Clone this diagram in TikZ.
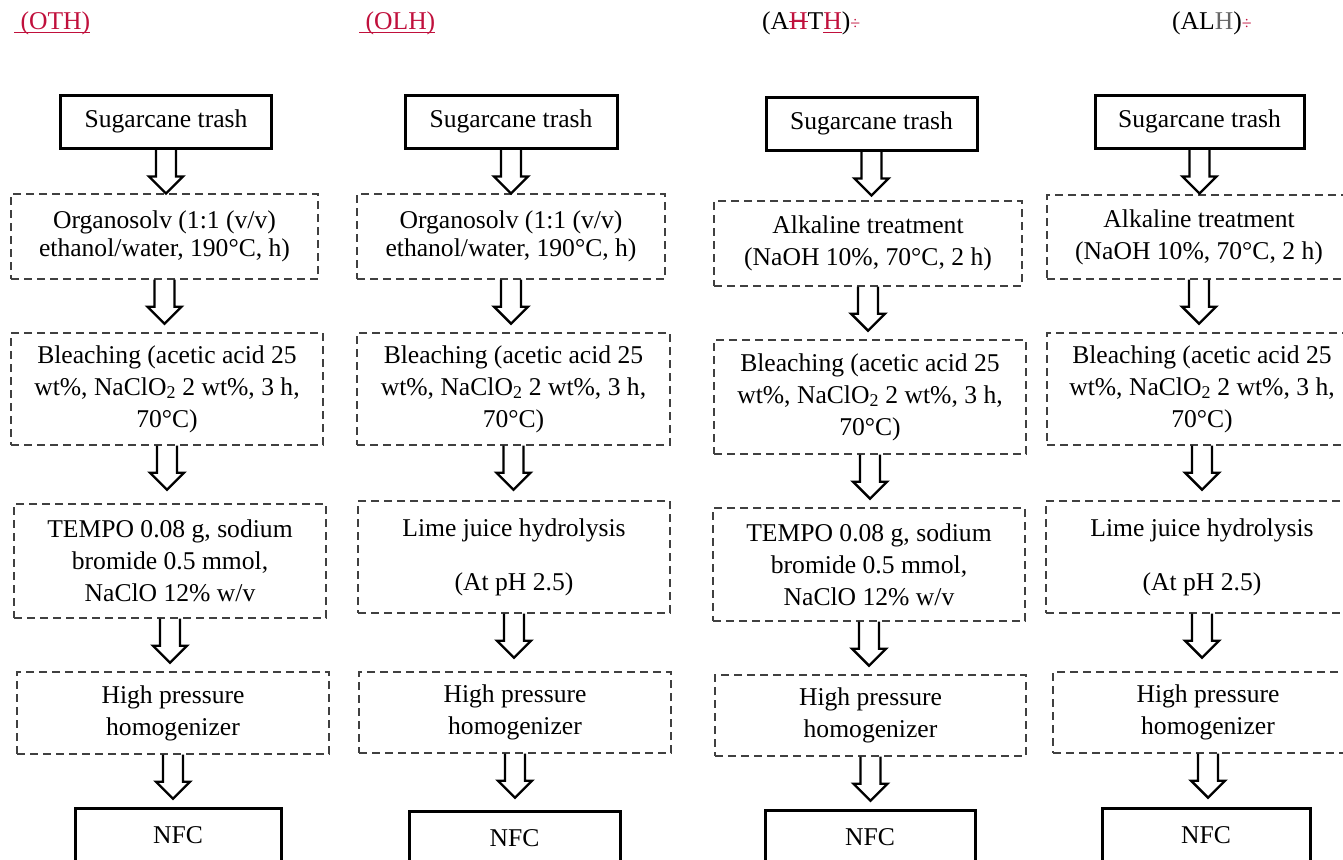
\documentclass[tikz,border=0pt]{standalone}
\usepackage{fontspec}
\setmainfont{Liberation Serif}
\usetikzlibrary{positioning}
\definecolor{revred}{RGB}{192,16,60}
% tracked-change marks
\newcommand{\insmark}[1]{\leavevmode\setbox0\hbox{#1}\rlap{\rule[-0.13em]{\wd0}{1.6pt}}\box0}
\newcommand{\delmark}[1]{\leavevmode\setbox0\hbox{#1}\rlap{\rule[0.3em]{\wd0}{1.6pt}}\box0}
\tikzset{
  startbox/.style={
    draw,
    line width = 3pt,
    minimum width = 211pt,
    minimum height = 53pt,
    font = \fontsize{25.6}{32}\selectfont
  },
  stepbox/.style={
    draw = black!75,
    line width = 1.4pt,
    dash pattern = on 8pt off 5pt,
    align = center,
    minimum width = 312pt,
    font = \fontsize{25.6}{32}\selectfont
  },
  blockarrow/.style={
    line width = 2.4pt,
    line join = miter
  },
  header/.style={
    anchor = base west,
    inner sep = 0pt,
    font = \fontsize{25.6}{32}\selectfont
  }
}
% hollow arrow hanging below a box
\newcommand{\flowarrow}[1]{%
  \draw[blockarrow] ([xshift=-10pt]#1.south) --++ (0,27) --++ (-7,0) --++ (17,17)
    --++ (17,-17) --++ (-7,0) --++ (0,-27);}

\begin{document}
\begin{tikzpicture}[x=1pt,y=-1pt]
  \useasboundingbox (0,0) rectangle (1343,859);
  \clip (0,0) rectangle (1343,859);
  % headers
  \node[header] (hd1) at (14,30) {\color{revred}\insmark{~(OTH)}};
  \node[header] (hd2) at (359,30) {\color{revred}\insmark{~(OLH)}};
  \node[header] (hd3) at (762,30) {(A\textcolor{revred}{\delmark{H}}T\textcolor{revred}{\insmark{H}})\textcolor{revred}{\fontsize{18}{18}\selectfont ÷}};
  \node[header] (hd4) at (1172,30) {(AL\textcolor{black!60}{H})\textcolor{revred}{\fontsize{18}{18}\selectfont ÷}};
  % OTH
  \node[startbox] (s1) at (166,121.5) {Sugarcane trash};
  \node[stepbox, minimum width=307pt, minimum height=85pt, font=\fontsize{25.6}{28}\selectfont] (o1) at (164.5,236.5) {Organosolv (1:1 (v/v)\\ethanol/water, 190°C, h)};
  \node[stepbox, minimum height=112pt] (b1) at (167,389) {Bleaching (acetic acid 25\\wt\%, NaClO\textsubscript{2} 2 wt\%, 3 h,\\70°C)};
  \node[stepbox, minimum height=114pt] (t1) at (170,561) {TEMPO 0.08 g, sodium\\bromide 0.5 mmol,\\NaClO 12\% w/v};
  \node[stepbox, minimum height=82pt] (h1) at (173,713) {High pressure\\homogenizer};
  \node[startbox, minimum width=206pt, minimum height=54pt] (n1) at (178,835) {NFC};
  % OLH
  \node[startbox, minimum width=212pt] (s2) at (511,121.5) {Sugarcane trash};
  \node[stepbox, minimum width=308pt, minimum height=85pt, font=\fontsize{25.6}{28}\selectfont] (o2) at (511,236.5) {Organosolv (1:1 (v/v)\\ethanol/water, 190°C, h)};
  \node[stepbox, minimum width=313pt, minimum height=112pt] (b2) at (513.5,389) {Bleaching (acetic acid 25\\wt\%, NaClO\textsubscript{2} 2 wt\%, 3 h,\\70°C)};
  \node[stepbox, minimum height=112pt] (l2) at (514,557) {Lime juice hydrolysis\\[22pt](At pH 2.5)};
  \node[stepbox, minimum height=81pt] (h2) at (515,712.5) {High pressure\\homogenizer};
  \node[startbox, minimum height=54pt] (n2) at (514.5,838) {NFC};
  % AHTH
  \node[startbox] (s3) at (871.5,123.5) {Sugarcane trash};
  \node[stepbox, minimum width=308pt, minimum height=85pt] (a3) at (868,243.5) {Alkaline treatment\\(NaOH 10\%, 70°C, 2 h)};
  \node[stepbox, minimum height=114pt] (b3) at (870,397) {Bleaching (acetic acid 25\\wt\%, NaClO\textsubscript{2} 2 wt\%, 3 h,\\70°C)};
  \node[stepbox, minimum height=113pt] (t3) at (869,564.5) {TEMPO 0.08 g, sodium\\bromide 0.5 mmol,\\NaClO 12\% w/v};
  \node[stepbox, minimum width=311pt, minimum height=81pt] (h3) at (870.5,715.5) {High pressure\\homogenizer};
  \node[startbox, minimum width=210pt, minimum height=54pt] (n3) at (870,837) {NFC};
  % ALH
  \node[startbox, minimum width=209pt] (s4) at (1199.5,121.5) {Sugarcane trash};
  \node[stepbox, minimum width=304pt, minimum height=84pt] (a4) at (1199,237) {Alkaline treatment\\(NaOH 10\%, 70°C, 2 h)};
  \node[stepbox, minimum width=310pt, minimum height=112pt] (b4) at (1202,389) {Bleaching (acetic acid 25\\wt\%, NaClO\textsubscript{2} 2 wt\%, 3 h,\\70°C)};
  \node[stepbox, minimum height=112pt] (l4) at (1202,557) {Lime juice hydrolysis\\[22pt](At pH 2.5)};
  \node[stepbox, minimum width=310pt, minimum height=81pt] (h4) at (1208,712.5) {High pressure\\homogenizer};
  \node[startbox, minimum width=208pt, minimum height=54pt] (n4) at (1206,835) {NFC};
  % arrows
  \foreach \n in {s1,o1,b1,t1,h1,s2,o2,b2,l2,h2,s3,a3,b3,t3,h3,s4,a4,b4,l4,h4}{
    \flowarrow{\n}
  }
\end{tikzpicture}
\end{document}
